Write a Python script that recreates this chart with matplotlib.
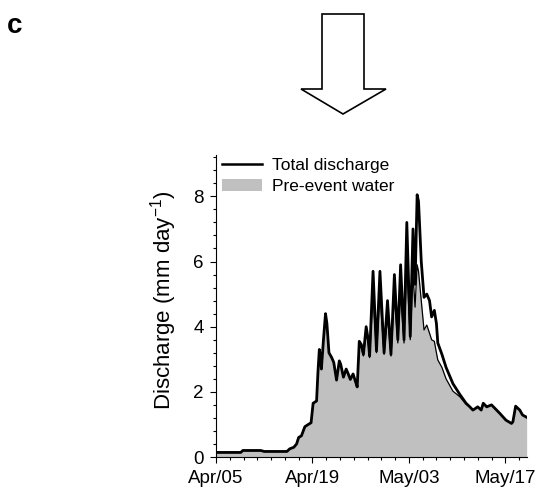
import numpy as np
import pandas as pd
import matplotlib
matplotlib.use("Agg")
import matplotlib.pyplot as plt
import matplotlib.dates as mdates
from matplotlib.patches import Polygon, Patch
from matplotlib.lines import Line2D

plt.rcParams['font.family'] = ['Liberation Sans', 'DejaVu Sans']
plt.rcParams['mathtext.fontset'] = 'custom'
plt.rcParams['mathtext.rm'] = 'Liberation Sans'
plt.rcParams['mathtext.it'] = 'Liberation Sans:italic'
plt.rcParams['mathtext.bf'] = 'Liberation Sans:bold'

# days after Apr/05
days = [0, 3.6, 3.9, 6.5, 7.0, 10.3, 10.7, 11.3, 11.7, 12.0, 12.4, 12.9, 13.4, 13.8,
        14.1, 14.6, 14.8, 15.0, 15.2, 15.3, 15.6, 15.9, 16.1, 16.4, 16.8, 17.1, 17.5,
        17.9, 18.1, 18.5, 18.9, 19.2, 19.5, 19.9, 20.2, 20.5, 20.8, 21.1, 21.4, 21.8,
        22.1, 22.3, 22.8, 23.3, 23.8, 24.4, 24.9, 25.4, 25.9, 26.4, 26.8, 27.3, 27.7,
        28.2, 28.6, 28.9, 29.2, 29.4, 29.8, 30.2, 30.6, 31.0, 31.3, 31.7, 32.0, 32.2,
        32.8, 33.4, 34.4, 35.4, 36.3, 36.8, 37.3, 38.0, 38.5, 38.8, 39.3, 40.0, 41.2,
        42.1, 42.9, 43.1, 43.5, 44.1, 44.5, 45.1]

total = [0.14, 0.14, 0.20, 0.20, 0.17, 0.17, 0.25, 0.30, 0.40, 0.60, 0.65, 0.93, 1.00, 1.05,
         1.65, 1.72, 2.60, 3.30, 3.00, 2.70, 3.60, 4.40, 4.10, 3.20, 3.05, 2.90, 2.36,
         2.95, 2.85, 2.45, 2.70, 2.55, 2.38, 2.55, 2.35, 2.15, 3.55, 3.45, 3.15, 4.00,
         3.60, 3.10, 5.70, 3.25, 5.70, 3.20, 4.80, 3.15, 5.60, 3.60, 5.90, 3.60, 7.20,
         3.70, 7.00, 5.30, 8.05, 7.85, 6.00, 4.90, 5.00, 4.80, 4.30, 4.50, 4.10, 3.50,
         3.15, 2.75, 2.25, 1.92, 1.65, 1.55, 1.44, 1.54, 1.44, 1.65, 1.54, 1.60, 1.34,
         1.13, 1.03, 1.08, 1.56, 1.44, 1.29, 1.22]

pre_event = [0.14, 0.14, 0.20, 0.20, 0.17, 0.17, 0.25, 0.30, 0.40, 0.60, 0.65, 0.93, 1.00, 1.05,
             1.65, 1.72, 2.60, 3.30, 3.00, 2.70, 3.60, 4.40, 4.10, 3.20, 3.05, 2.90, 2.36,
             2.95, 2.85, 2.45, 2.70, 2.55, 2.38, 2.55, 2.35, 2.15, 3.40, 3.35, 3.10, 3.80,
             3.50, 3.05, 5.00, 3.20, 5.00, 3.15, 4.30, 3.10, 4.90, 3.50, 5.00, 3.50, 5.90,
             3.60, 5.60, 4.60, 5.90, 5.70, 4.80, 3.90, 4.05, 3.80, 3.60, 3.55, 3.20, 2.98,
             2.75, 2.40, 2.02, 1.85, 1.62, 1.55, 1.44, 1.54, 1.44, 1.65, 1.54, 1.60, 1.34,
             1.13, 1.03, 1.08, 1.56, 1.44, 1.29, 1.22]

start = pd.Timestamp('2012-04-05')
t = start + pd.to_timedelta(days, unit='D')

fig = plt.figure(figsize=(5.37, 4.94), dpi=100)
ax = fig.add_axes([216/537, 37/494, 311/537, 302/494])

ax.fill_between(t, 0, pre_event, color='#c0c0c0', lw=0)
ax.plot(t, pre_event, color='black', lw=0.9)
ax.plot(t, total, color='black', lw=2.0, solid_joinstyle='round')

ax.set_xlim(start, start + pd.Timedelta(days=45.15))
ax.set_ylim(0, 9.27)

ax.set_xticks(pd.to_datetime(['2012-04-05', '2012-04-19', '2012-05-03', '2012-05-17']))
ax.set_xticks(pd.date_range('2012-04-05', '2012-05-19', freq='2D'), minor=True)
ax.xaxis.set_major_formatter(mdates.DateFormatter('%b/%d'))
ax.set_yticks([0, 2, 4, 6, 8])
ax.set_yticks(np.arange(0, 9.3, 0.4), minor=True)

for s in ['top', 'right']:
    ax.spines[s].set_visible(False)
for s in ['left', 'bottom']:
    ax.spines[s].set_linewidth(0.8)

ax.tick_params(which='major', length=4, width=0.8, labelsize=13.5, pad=5)
ax.tick_params(which='minor', length=2.2, width=0.8)
ax.tick_params(axis='x', pad=5)

ax.set_ylabel('Discharge (mm day$^{\\mathrm{-1}}$)', fontsize=16)
ax.yaxis.set_label_coords(-0.118, 0.52)

handles = [Line2D([], [], color='black', lw=1.8),
           Patch(facecolor='#c0c0c0', edgecolor='none')]
ax.legend(handles, ['Total discharge', 'Pre-event water'], loc='upper left',
          bbox_to_anchor=(0.02, 0.99), frameon=False, fontsize=12.5,
          handlelength=2.3, handletextpad=0.55, labelspacing=0.32, borderpad=0,
          borderaxespad=0)

# open arrow above the panel
arrow = [(322, 14), (364, 14), (364, 89), (386, 89), (343, 114), (301, 89), (322, 89)]
arrow = [(x / 537, 1 - y / 494) for x, y in arrow]
fig.add_artist(Polygon(arrow, closed=True, facecolor='white', edgecolor='black',
                       lw=1.2, transform=fig.transFigure))

fig.text(7/537, 1 - 33/494, 'c', fontsize=20, fontweight='bold', va='baseline')

fig.savefig('out.png', dpi=100)
